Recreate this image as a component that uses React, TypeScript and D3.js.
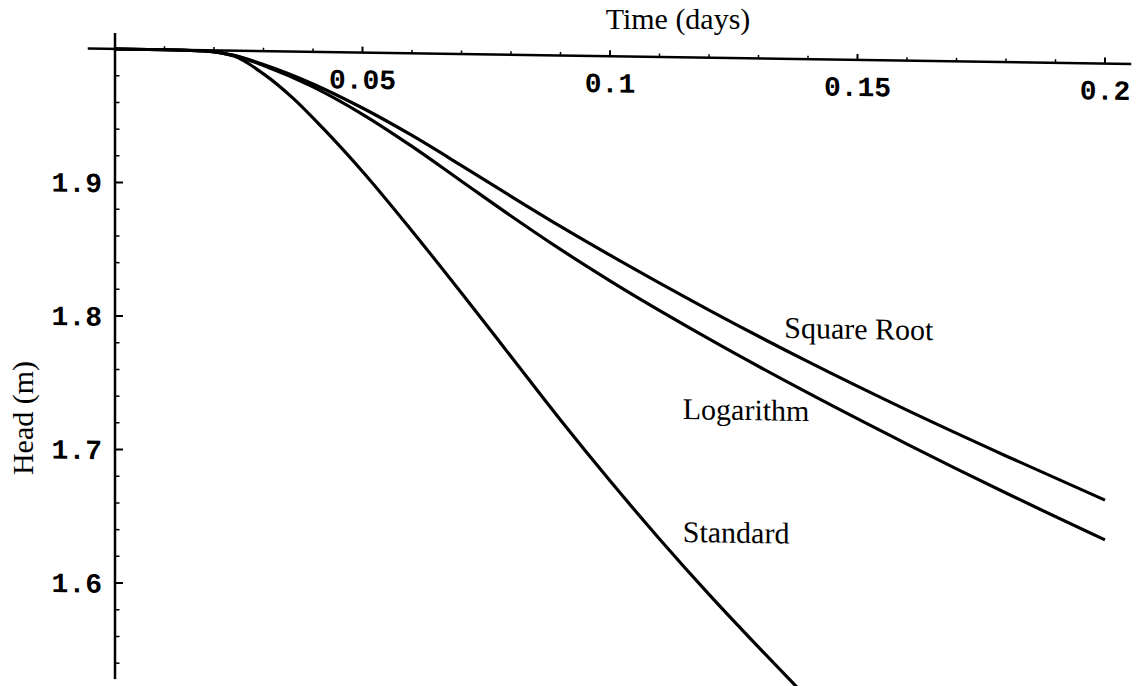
import React from 'react';
import * as d3 from 'd3';

// values (time in days, head in m)
const standardT = [0, 0.01, 0.018, 0.024, 0.03, 0.036, 0.042, 0.05, 0.06, 0.07, 0.08, 0.09, 0.1, 0.11, 0.12, 0.13, 0.14];
const standardH = [2.0, 2.0, 1.9995, 1.996, 1.983, 1.965, 1.943, 1.911, 1.867, 1.821, 1.774, 1.727, 1.682, 1.639, 1.598, 1.559, 1.521];

const sqrtT = [0, 0.01, 0.018, 0.024, 0.03, 0.04, 0.05, 0.06, 0.07, 0.08, 0.09, 0.1, 0.12, 0.14, 0.16, 0.18, 0.2];
const sqrtH = [2.0, 2.0, 1.9995, 1.9965, 1.99, 1.976, 1.9585, 1.9385, 1.9165, 1.894, 1.872, 1.851, 1.811, 1.7734, 1.7382, 1.705, 1.673];

const logT = [0, 0.01, 0.018, 0.024, 0.03, 0.04, 0.05, 0.06, 0.07, 0.08, 0.09, 0.1, 0.12, 0.14, 0.16, 0.18, 0.2];
const logH = [2.0, 2.0, 1.9995, 1.9965, 1.9893, 1.9738, 1.9538, 1.9303, 1.9048, 1.8793, 1.8548, 1.8318, 1.7894, 1.75, 1.7128, 1.6772, 1.6432];

const xTickValues = [0.05, 0.1, 0.15, 0.2];
const xTickLabels = ['0.05', '0.1', '0.15', '0.2'];
const yTickValues = [1.9, 1.8, 1.7, 1.6];
const yTickLabels = ['1.9', '1.8', '1.7', '1.6'];

const curveNames = ['Square Root', 'Logarithm', 'Standard'];
const labelT = [0.1352, 0.1147, 0.1147];
const labelH = [1.791, 1.729, 1.637];

const width = 1138;
const height = 686;
const skew = 0.842; // the scan is slightly sheared

const App = () => {
  const x = d3.scaleLinear().domain([0, 0.2]).range([115, 1105]);
  const y = d3.scaleLinear().domain([2.0, 1.6]).range([49, 583]);

  const line = d3.line<[number, number]>()
    .x(d => x(d[0]))
    .y(d => y(d[1]))
    .curve(d3.curveMonotoneX);

  const series = [
    d3.zip(sqrtT, sqrtH),
    d3.zip(logT, logH),
    d3.zip(standardT, standardH),
  ] as [number, number][][];

  const xMinor = x.ticks(20).filter(t => t > 0 && !xTickValues.some(v => Math.abs(v - t) < 1e-9));
  const yMinor = d3.range(1.54, 1.99, 0.02).filter(t => !yTickValues.some(v => Math.abs(v - t) < 1e-9));

  const monoFont = '"Liberation Mono", "Courier New", monospace';
  const serifFont = '"Liberation Serif", "Times New Roman", serif';

  return (
    <svg width={width} height={height} style={{ position: 'absolute', left: 0, top: 0, background: '#fff' }}>
      <g transform={`translate(${x(0)},0) skewY(${skew}) translate(${-x(0)},0)`}>
        {/* x axis along the top */}
        <line x1={x(-0.0055)} x2={x(0.2053)} y1={y(2.0)} y2={y(2.0)} stroke="#000" strokeWidth={2.5} />
        {xTickValues.map(t => (
          <line key={'xM' + t} x1={x(t)} x2={x(t)} y1={y(2.0)} y2={y(2.0) - 6} stroke="#000" strokeWidth={2} />
        ))}
        {xMinor.map(t => (
          <line key={'xm' + t} x1={x(t)} x2={x(t)} y1={y(2.0)} y2={y(2.0) - 3.5} stroke="#000" strokeWidth={1.5} />
        ))}
        {xTickValues.map((t, i) => (
          <text key={'xl' + t} x={x(t)} y={y(2.0) + 36} textAnchor="middle" fontFamily={monoFont} fontWeight="bold" fontSize={28}>
            {xTickLabels[i]}
          </text>
        ))}

        {/* y axis */}
        <line x1={x(0)} x2={x(0)} y1={y(2.012)} y2={y(1.528)} stroke="#000" strokeWidth={2.5} />
        {yTickValues.map(v => (
          <line key={'yM' + v} x1={x(0)} x2={x(0) + 8} y1={y(v)} y2={y(v)} stroke="#000" strokeWidth={2} />
        ))}
        {yMinor.map(v => (
          <line key={'ym' + v} x1={x(0)} x2={x(0) + 4.5} y1={y(v)} y2={y(v)} stroke="#000" strokeWidth={1.5} />
        ))}
        {yTickValues.map((v, i) => (
          <text key={'yl' + v} x={x(0) - 13} y={y(v) + 10} textAnchor="end" fontFamily={monoFont} fontWeight="bold" fontSize={28}>
            {yTickLabels[i]}
          </text>
        ))}

        {series.map((s, i) => (
          <path key={curveNames[i]} d={line(s) || ''} fill="none" stroke="#000" strokeWidth={3.2} strokeLinejoin="round" />
        ))}

        {curveNames.map((name, i) => (
          <text key={'lab' + name} x={x(labelT[i])} y={y(labelH[i])} fontFamily={serifFont} fontSize={30}>
            {name}
          </text>
        ))}
      </g>

      <text x={678} y={29} textAnchor="middle" fontFamily={serifFont} fontSize={30}>Time (days)</text>
      <text transform="translate(33,418) rotate(-90)" textAnchor="middle" fontFamily={serifFont} fontSize={30}>Head (m)</text>
    </svg>
  );
};

export default App;
